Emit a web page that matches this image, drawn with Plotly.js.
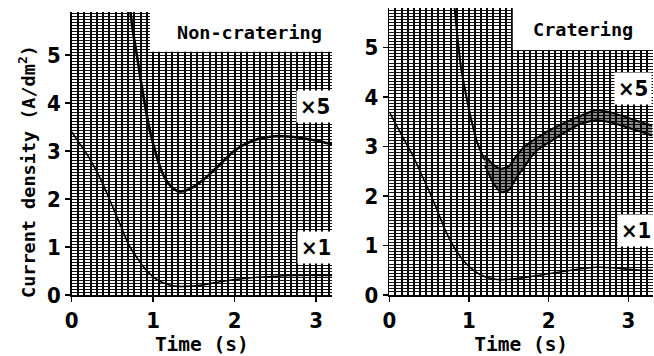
<!DOCTYPE html>
<html>
<head>
<meta charset="utf-8">
<script src="https://cdn.plot.ly/plotly-3.0.1.min.js"></script>
<style>html,body{margin:0;padding:0;background:#fff;}#chart{width:654px;height:356px;}</style>
</head>
<body>
<div id="chart"></div>
<script>
// ---- Data ----
const panelTitles = ["Non-cratering", "Cratering"];
const gainLabels = ["\u00d75", "\u00d71"];
const xTitle = "Time (s)";
const yTitle = "Current density (A/dm<sup>2</sup>)";
const xTickVals = [0, 1, 2, 3];
const yTickVals = [0, 1, 2, 3, 4, 5];

// Non-cratering, x1 trace
const timeNC1 = [0, 0.1, 0.2, 0.3, 0.4, 0.5, 0.6, 0.7, 0.8, 0.9, 1.0, 1.1, 1.2, 1.3, 1.4, 1.6, 1.8, 2.0, 2.2, 2.4, 2.6, 2.8, 3.0, 3.2];
const densNC1 = [3.4, 3.15, 2.9, 2.6, 2.25, 1.85, 1.45, 1.05, 0.78, 0.55, 0.38, 0.27, 0.21, 0.18, 0.18, 0.21, 0.27, 0.32, 0.36, 0.38, 0.40, 0.41, 0.41, 0.41];
// Non-cratering, x5 trace
const timeNC5 = [0.72, 0.76, 0.8, 0.85, 0.9, 0.95, 1.0, 1.05, 1.1, 1.15, 1.2, 1.25, 1.3, 1.35, 1.4, 1.5, 1.6, 1.7, 1.8, 1.9, 2.0, 2.1, 2.2, 2.3, 2.4, 2.5, 2.6, 2.7, 2.8, 2.9, 3.0, 3.1, 3.2];
const densNC5 = [5.9, 5.4, 5.0, 4.45, 3.95, 3.5, 3.15, 2.85, 2.6, 2.42, 2.3, 2.22, 2.17, 2.16, 2.18, 2.26, 2.38, 2.53, 2.69, 2.86, 3.01, 3.12, 3.2, 3.26, 3.29, 3.31, 3.31, 3.3, 3.28, 3.25, 3.22, 3.18, 3.14];

// Cratering, x1 trace
const timeC1 = [0, 0.1, 0.2, 0.3, 0.4, 0.5, 0.6, 0.7, 0.8, 0.9, 1.0, 1.1, 1.2, 1.3, 1.4, 1.6, 1.8, 2.0, 2.2, 2.4, 2.6, 2.8, 3.0, 3.2, 3.3];
const densC1 = [3.7, 3.4, 3.1, 2.8, 2.45, 2.1, 1.72, 1.32, 1.0, 0.76, 0.58, 0.45, 0.37, 0.33, 0.31, 0.33, 0.38, 0.43, 0.48, 0.53, 0.56, 0.55, 0.52, 0.5, 0.5];
// Cratering, x5 trace: smooth descent
const timeC5 = [0.82, 0.85, 0.9, 0.95, 1.0, 1.05, 1.1, 1.15, 1.2];
const densC5 = [5.8, 5.3, 4.6, 4.15, 3.75, 3.4, 3.1, 2.9, 2.72];
// Cratering, x5 trace: noisy band (lower / upper envelope)
const timeC5band = [1.2, 1.3, 1.4, 1.5, 1.6, 1.7, 1.8, 1.9, 2.0, 2.2, 2.4, 2.6, 2.8, 3.0, 3.2, 3.3];
const densC5low = [2.62, 2.28, 2.08, 2.12, 2.38, 2.6, 2.83, 2.98, 3.08, 3.28, 3.46, 3.53, 3.48, 3.38, 3.28, 3.22];
const densC5high = [2.82, 2.64, 2.55, 2.6, 2.82, 3.0, 3.12, 3.22, 3.32, 3.48, 3.62, 3.74, 3.68, 3.58, 3.47, 3.42];

// ---- Chart ----
const line = (w) => ({color: '#000', width: w, shape: 'spline', smoothing: 0.6});
const traces = [
  {x: timeNC1, y: densNC1, xaxis: 'x', yaxis: 'y', mode: 'lines', line: line(1.6), hoverinfo: 'skip'},
  {x: timeNC5, y: densNC5, xaxis: 'x', yaxis: 'y', mode: 'lines', line: line(2.6), hoverinfo: 'skip'},
  {x: timeC1, y: densC1, xaxis: 'x2', yaxis: 'y2', mode: 'lines', line: line(1.6), hoverinfo: 'skip'},
  {x: timeC5, y: densC5, xaxis: 'x2', yaxis: 'y2', mode: 'lines', line: line(2), hoverinfo: 'skip'},
  {x: timeC5band, y: densC5low, xaxis: 'x2', yaxis: 'y2', mode: 'lines', line: line(2), hoverinfo: 'skip'},
  {x: timeC5band, y: densC5high, xaxis: 'x2', yaxis: 'y2', mode: 'lines', line: line(2), fill: 'tonexty', fillcolor: 'rgba(0,0,0,0.45)', hoverinfo: 'skip'}
];

const tickFont = {family: 'Liberation Sans Narrow, DejaVu Sans Condensed, sans-serif', size: 22, color: '#000', weight: 700};
const labelFont = {family: 'DejaVu Sans Mono, monospace', size: 18.5, color: '#000', weight: 700};
const xTitleFont = {family: 'DejaVu Sans Mono, monospace', size: 19.5, color: '#000', weight: 700};
const gainFont = {family: 'DejaVu Sans Condensed, sans-serif', size: 22, color: '#000', weight: 700};

function xAxis(domain, max, anchor) {
  return {
    domain: domain, range: [0, max], anchor: anchor,
    tickvals: xTickVals, ticktext: xTickVals.map(String),
    ticks: 'outside', ticklen: 5, tickwidth: 1.5, tickcolor: '#000',
    showline: true, linecolor: '#000', linewidth: 1.5,
    showgrid: true, gridcolor: '#000', gridwidth: 2,
    minor: {dtick: 1/13, showgrid: true, gridcolor: '#000', gridwidth: 2},
    zeroline: false, tickfont: tickFont,
    title: {text: xTitle, font: xTitleFont, standoff: 4},
    fixedrange: true
  };
}
function yAxis(domain, max, anchor) {
  return {
    domain: domain, range: [0, max], anchor: anchor,
    tickvals: yTickVals, ticktext: yTickVals.map(String),
    ticks: 'outside', ticklen: 5, tickwidth: 1.5, tickcolor: '#000',
    showline: true, linecolor: '#000', linewidth: 1.5,
    showgrid: true, gridcolor: '#111', gridwidth: 1,
    minor: {dtick: 1/16, showgrid: true, gridcolor: '#111', gridwidth: 1},
    zeroline: false, tickfont: tickFont,
    fixedrange: true
  };
}

const layout = {
  width: 654, height: 356,
  margin: {l: 0, r: 0, t: 0, b: 0},
  paper_bgcolor: '#fff', plot_bgcolor: '#fff',
  showlegend: false,
  xaxis: xAxis([71.7/654, 332/654], 3.194, 'y'),
  yaxis: yAxis([61/356, 344/356], 5.9, 'x'),
  xaxis2: xAxis([389.3/654, 653/654], 3.31, 'y2'),
  yaxis2: yAxis([61/356, 348/356], 5.8, 'x2'),
  shapes: [
    {type: 'rect', xref: 'x', yref: 'y', x0: 0.96, x1: 3.4, y0: 5.07, y1: 7, fillcolor: '#fff', line: {width: 0}, layer: 'between'},
    {type: 'rect', xref: 'x2', yref: 'y2', x0: 1.55, x1: 3.5, y0: 4.95, y1: 7, fillcolor: '#fff', line: {width: 0}, layer: 'between'}
  ],
  annotations: [
    {xref: 'paper', yref: 'paper', x: 27/654, y: (356-172)/356, xanchor: 'center', yanchor: 'middle', text: yTitle, textangle: -90, showarrow: false, font: labelFont},
    {xref: 'x', yref: 'y', x: 2.18, y: 5.48, text: panelTitles[0], showarrow: false, font: labelFont},
    {xref: 'x2', yref: 'y2', x: 2.43, y: 5.37, text: panelTitles[1], showarrow: false, font: labelFont},
    {xref: 'x', yref: 'y', x: 2.98, y: 3.92, text: gainLabels[0], showarrow: false, font: gainFont, bgcolor: '#fff', borderpad: 3},
    {xref: 'x', yref: 'y', x: 3.0, y: 1.0, text: gainLabels[1], showarrow: false, font: gainFont, bgcolor: '#fff', borderpad: 3},
    {xref: 'x2', yref: 'y2', x: 3.06, y: 4.18, text: gainLabels[0], showarrow: false, font: gainFont, bgcolor: '#fff', borderpad: 3},
    {xref: 'x2', yref: 'y2', x: 3.1, y: 1.3, text: gainLabels[1], showarrow: false, font: gainFont, bgcolor: '#fff', borderpad: 3}
  ]
};

Plotly.newPlot('chart', traces, layout, {staticPlot: true, displayModeBar: false});
</script>
</body>
</html>
